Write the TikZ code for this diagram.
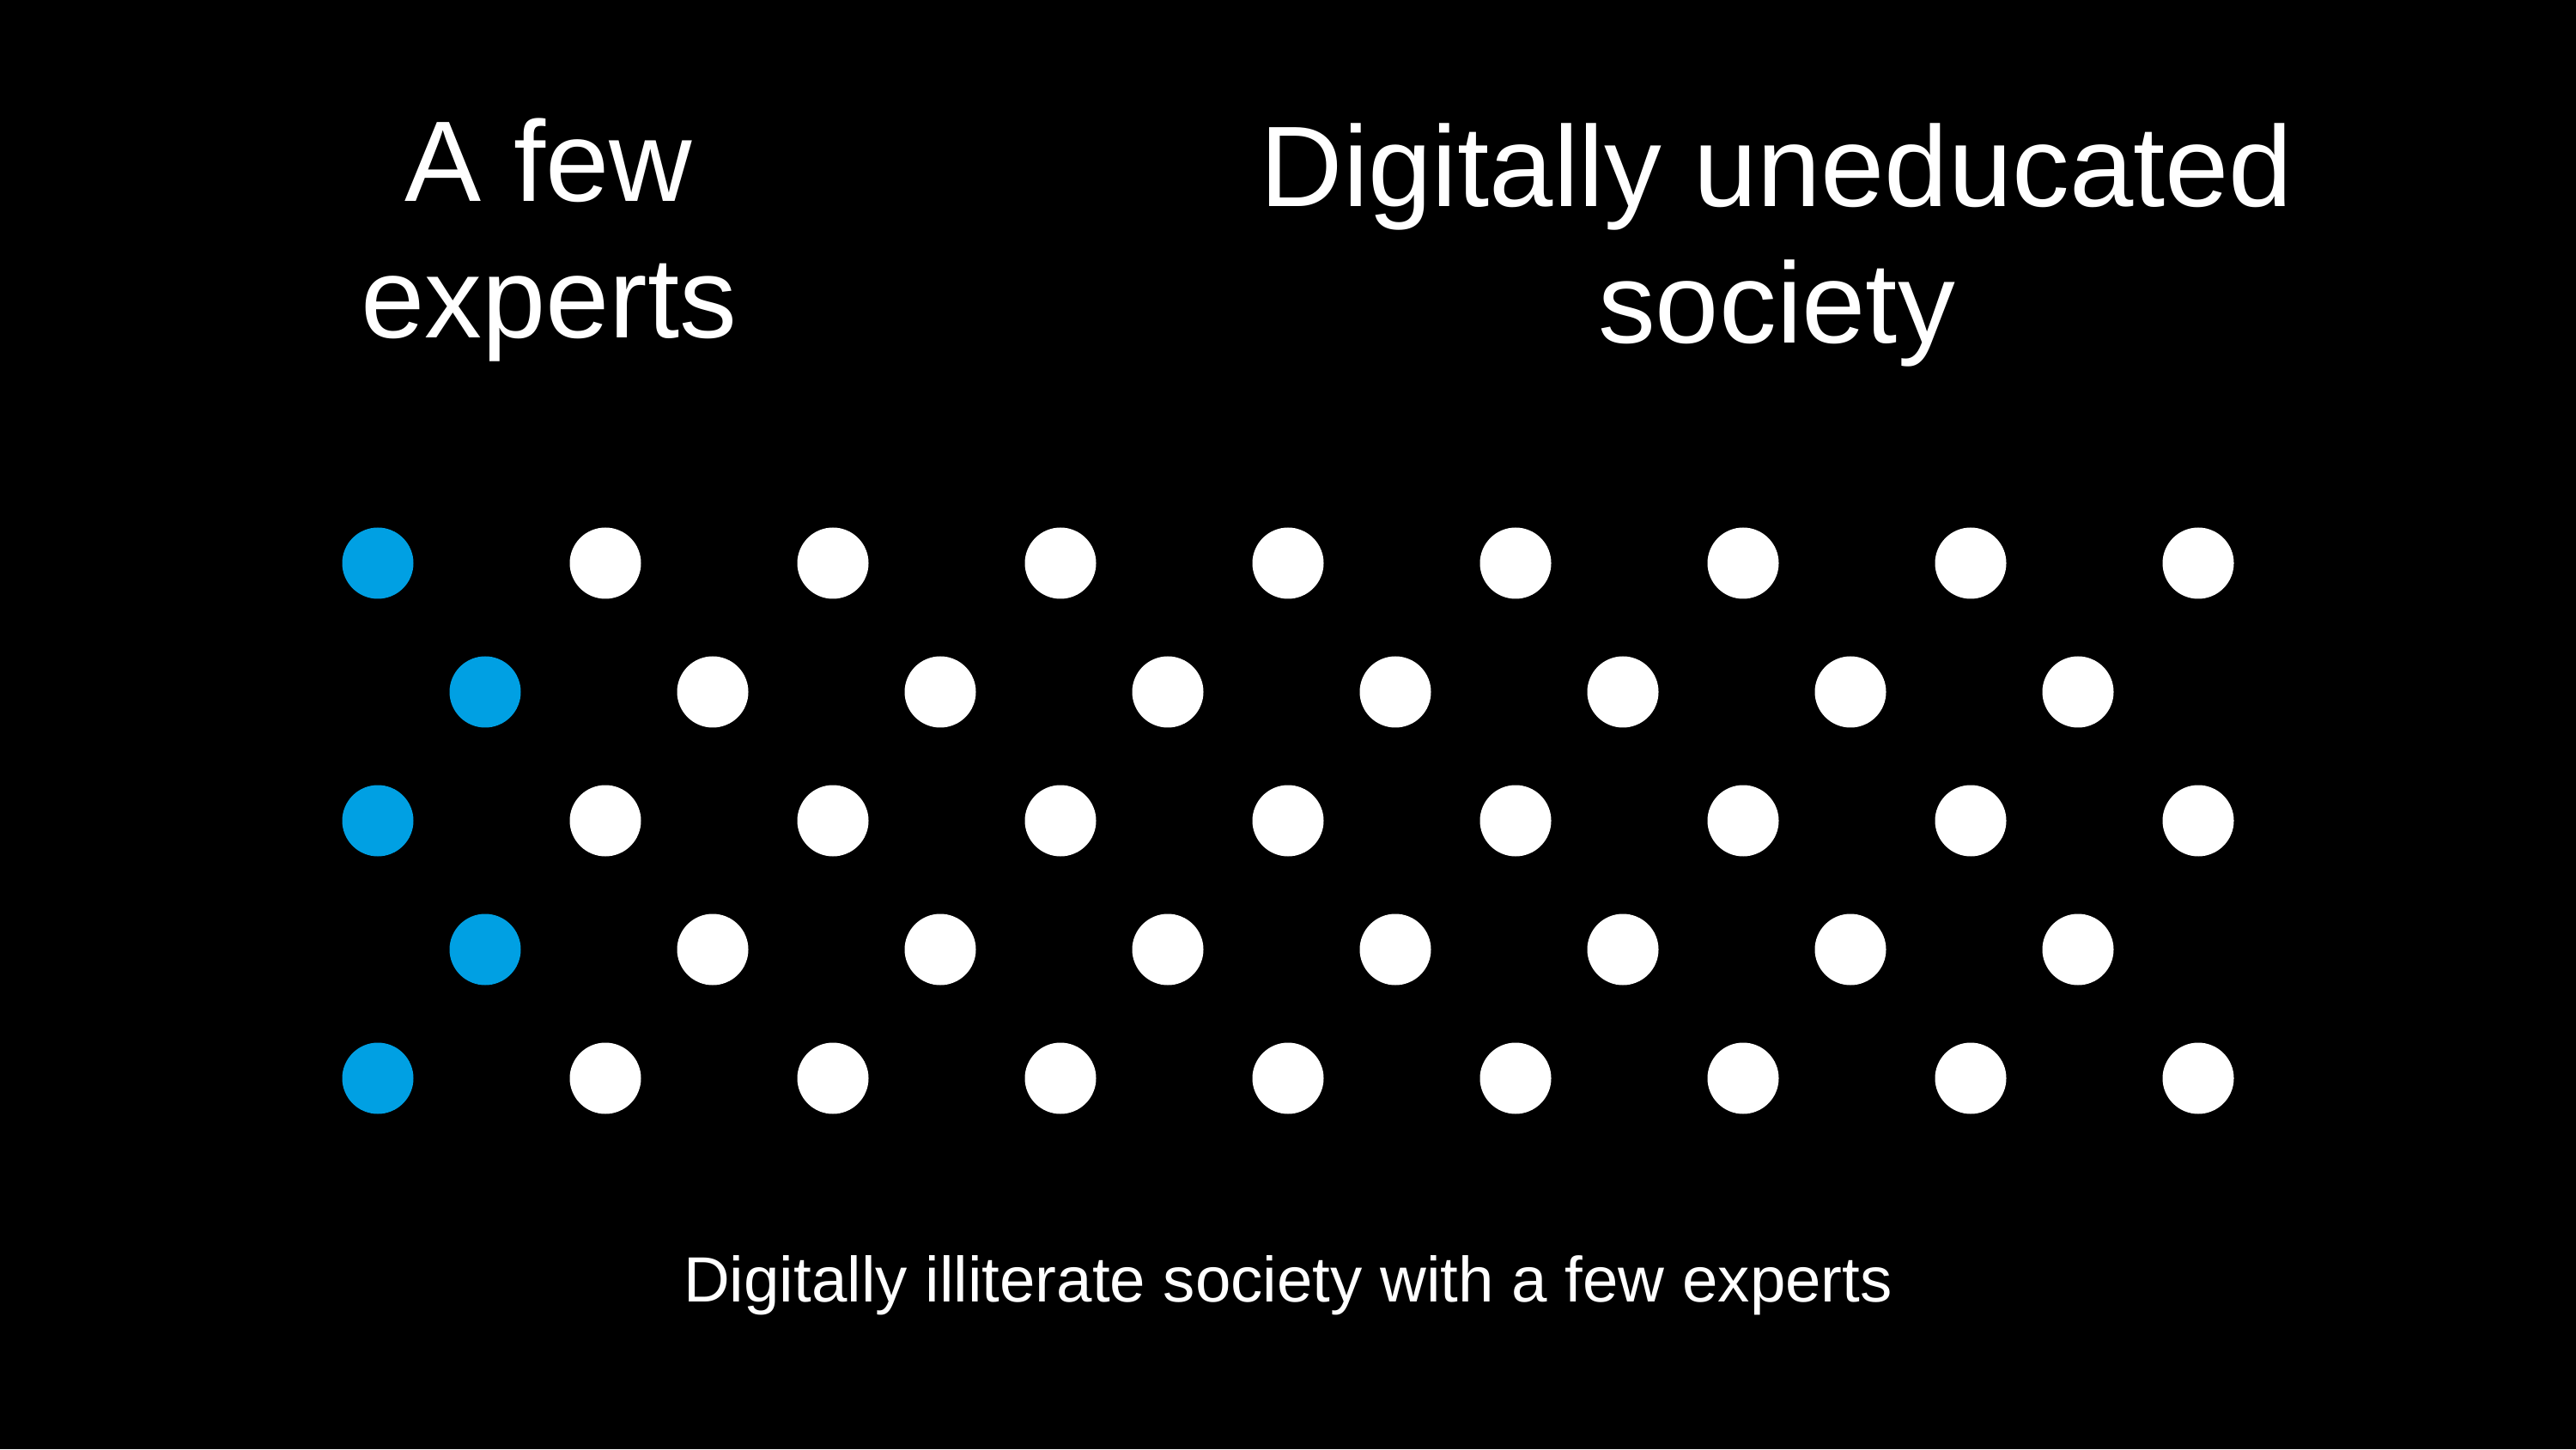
\documentclass[tikz,border=0pt]{standalone}
\usepackage{fontspec}
\setmainfont{Liberation Sans}
\definecolor{Expertblue}{RGB}{0,160,227}
\begin{document}
\begin{tikzpicture}[
  every node/.style={text=white},
  person/.style={circle, fill=white, minimum size=0.83cm, inner sep=0pt},
  expert/.style={person, fill=Expertblue},
  heading/.style={font=\fontsize{38}{45.5}\selectfont, align=center, inner sep=0pt},
  caption/.style={font=\fontsize{21.2}{25}\selectfont, inner sep=0pt}
]
  \fill[black] (0,0) rectangle (30,16.88);
  \useasboundingbox (0,0) rectangle (30,16.88);

  % --- Headings ---
  \node[heading, anchor=base] (few)     at (6.39,12.94)  {A few\\experts};
  \node[heading, anchor=base] (society) at (20.69,12.88) {Digitally uneducated\\society};

  % --- Rows of people (first column: experts) ---
  \foreach \r in {0,2,4} {
    \node[expert] (d-\r-0) at (4.40,{10.32-1.5*\r}) {};
    \foreach \c in {1,...,8}
      \node[person] (d-\r-\c) at ({4.40+2.65*\c},{10.32-1.5*\r}) {};
  }
  \foreach \r in {1,3} {
    \node[expert] (d-\r-0) at (5.65,{10.32-1.5*\r}) {};
    \foreach \c in {1,...,7}
      \node[person] (d-\r-\c) at ({5.65+2.65*\c},{10.32-1.5*\r}) {};
  }

  % --- Caption ---
  \node[caption, anchor=base] (note) at (15.0,1.72)
    {Digitally illiterate society with a few experts};
\end{tikzpicture}
\end{document}
